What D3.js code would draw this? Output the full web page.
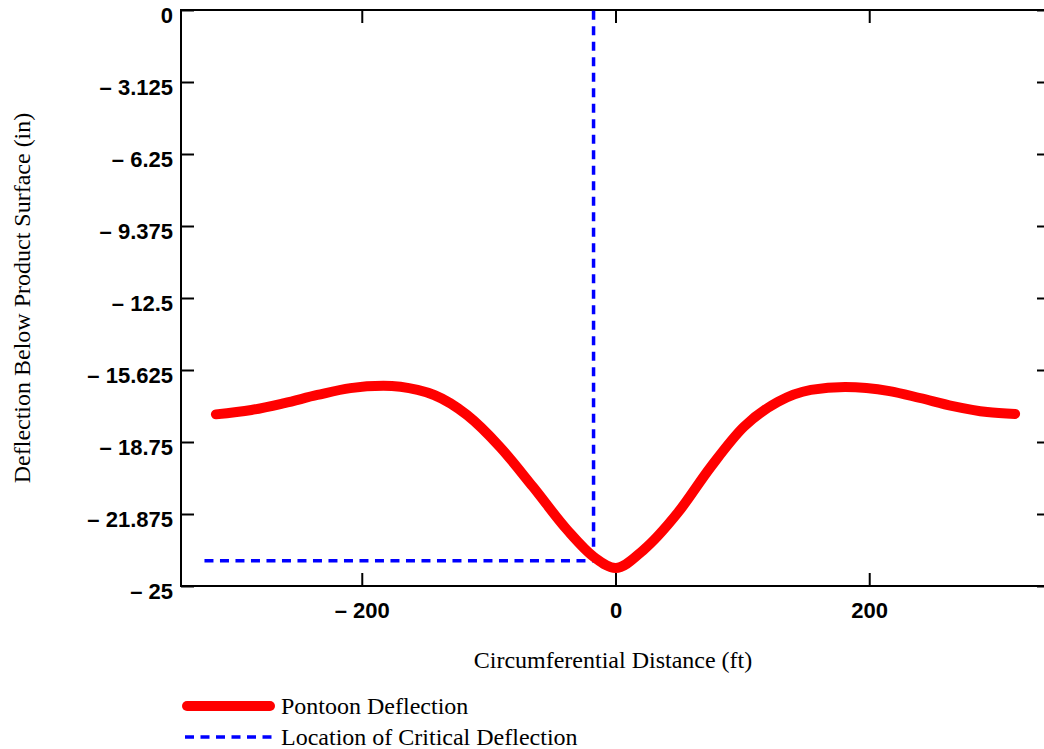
<!DOCTYPE html>
<html>
<head>
<meta charset="utf-8">
<script src="https://cdn.jsdelivr.net/npm/d3@7"></script>
<style>
  body { margin: 0; background: #fff; }
  svg { display: block; }
  .tick text { font-family: "Liberation Sans", Arial, sans-serif; font-weight: bold; font-size: 22px; fill: #000; }
  .lbl { font-family: "Liberation Serif", "Times New Roman", serif; font-size: 24px; fill: #000; }
</style>
</head>
<body>
<div id="chart"></div>
<script>
    // values
    const distance = [-315, -287, -261, -235, -209, -183, -156, -143, -117, -91, -65, -38, -17, 0, 22, 49, 75, 101, 128, 154, 181, 216, 240, 266, 293, 315];
    const deflection = [-17.55, -17.36, -17.06, -16.71, -16.41, -16.31, -16.49, -16.71, -17.58, -18.97, -20.70, -22.57, -23.74, -24.22, -23.44, -21.83, -19.84, -18.10, -17.01, -16.49, -16.36, -16.54, -16.84, -17.19, -17.45, -17.53];
    const critX = [-324, -17.3];
    const critY = -23.9;
    const yTicks = [0, -3.125, -6.25, -9.375, -12.5, -15.625, -18.75, -21.875, -25];
    const xTicks = [-200, 0, 200];

    const W = 1044, H = 749;
    const margin = { top: 10, right: -6, bottom: 163, left: 181 };
    const width = W - margin.left - margin.right;
    const height = H - margin.top - margin.bottom;

    const svg = d3.select("#chart").append("svg")
      .attr("width", W)
      .attr("height", H);
    const g = svg.append("g").attr("transform", `translate(${margin.left},${margin.top})`);

    const x = d3.scaleLinear().domain([-342.5, 342.5]).range([0, width]);
    const y = d3.scaleLinear().domain([-25, 0]).range([height, 0]);

    const fmt = d => d === 0 ? "0" : (d < 0 ? "\u2013 " + (-d) : String(d));

    // inward ticks on all four sides
    const xAxis = g.append("g")
      .attr("transform", `translate(0,${height})`)
      .call(d3.axisBottom(x).tickValues(xTicks).tickSize(-13).tickPadding(16).tickFormat(fmt));
    xAxis.select(".domain").remove();
    xAxis.selectAll(".tick text").attr("dy", "0.71em");

    g.append("g")
      .call(d3.axisTop(x).tickValues(xTicks).tickSize(-13).tickFormat(""))
      .call(a => a.select(".domain").remove());

    const yAxis = g.append("g")
      .call(d3.axisLeft(y).tickValues(yTicks).tickSize(-13).tickPadding(8).tickFormat(fmt));
    yAxis.select(".domain").remove();
    yAxis.selectAll(".tick text").attr("dy", "0.58em");

    g.append("g")
      .attr("transform", `translate(${width},0)`)
      .call(d3.axisRight(y).tickValues(yTicks).tickSize(-13).tickFormat(""))
      .call(a => a.select(".domain").remove());

    g.selectAll(".tick line").attr("stroke", "#000").attr("stroke-width", 2);

    g.append("rect")
      .attr("width", width).attr("height", height)
      .attr("fill", "none").attr("stroke", "#000").attr("stroke-width", 2);

    // critical deflection guide
    const critPath = d3.line()([
      [x(critX[0]), y(critY)], [x(critX[1]), y(critY)], [x(critX[1]), y(0)]
    ]);
    g.append("path")
      .attr("d", critPath)
      .attr("fill", "none")
      .attr("stroke", "#0000ff")
      .attr("stroke-width", 3.5)
      .attr("stroke-dasharray", "9,6.5");

    // deflection curve
    const line = d3.line()
      .x((d, i) => x(distance[i]))
      .y(d => y(d))
      .curve(d3.curveMonotoneX);
    g.append("path")
      .datum(deflection)
      .attr("d", line)
      .attr("fill", "none")
      .attr("stroke", "#ff0000")
      .attr("stroke-width", 10)
      .attr("stroke-linecap", "round")
      .attr("stroke-linejoin", "round");

    // axis titles
    svg.append("text").attr("class", "lbl")
      .attr("x", 613).attr("y", 668)
      .attr("text-anchor", "middle")
      .text("Circumferential Distance (ft)");
    svg.append("text").attr("class", "lbl")
      .attr("transform", "translate(30,298) rotate(-90)")
      .attr("text-anchor", "middle")
      .text("Deflection Below Product Surface (in)");

    // legend
    const legend = svg.append("g");
    legend.append("line")
      .attr("x1", 187).attr("x2", 270).attr("y1", 706).attr("y2", 706)
      .attr("stroke", "#ff0000").attr("stroke-width", 10).attr("stroke-linecap", "round");
    legend.append("text").attr("class", "lbl")
      .attr("x", 281).attr("y", 714)
      .text("Pontoon Deflection");
    legend.append("line")
      .attr("x1", 185).attr("x2", 272).attr("y1", 737).attr("y2", 737)
      .attr("stroke", "#0000ff").attr("stroke-width", 3.5).attr("stroke-dasharray", "9,6.5");
    legend.append("text").attr("class", "lbl")
      .attr("x", 281).attr("y", 745)
      .text("Location of Critical Deflection");
</script>
</body>
</html>
